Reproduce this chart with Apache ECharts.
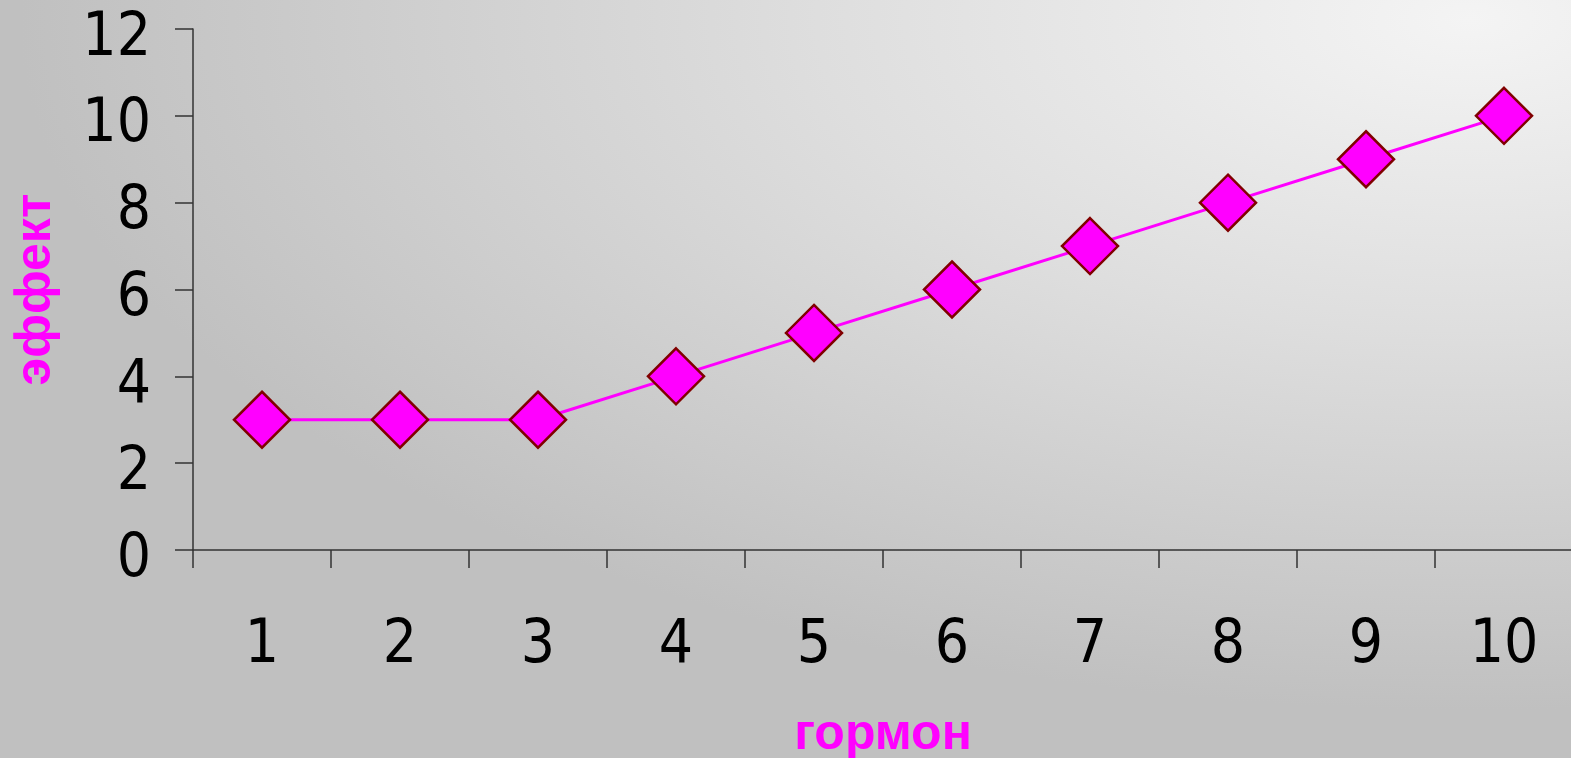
<!DOCTYPE html>
<html>
<head>
<meta charset="utf-8">
<title>гормон / эффект</title>
<script src="https://cdn.jsdelivr.net/npm/echarts@6/dist/echarts.min.js"></script>
<style>
  html, body { margin: 0; padding: 0; }
  body {
    width: 1571px; height: 758px; overflow: hidden;
    background: radial-gradient(ellipse 1450px 690px at 1470px 20px, #f4f4f4 0%, #dedede 45%, #c0c0c0 100%);
  }
  #chart { width: 1571px; height: 758px; }
</style>
</head>
<body>
<div id="chart"></div>
<script>
// Dose of hormone (x) against observed effect (y)
const categories = ['1', '2', '3', '4', '5', '6', '7', '8', '9', '10'];
const effectValues = [3, 3, 3, 4, 5, 6, 7, 8, 9, 10];
const xAxisTitle = 'гормон';
const yAxisTitle = 'эффект';

const chart = echarts.init(document.getElementById('chart'), null, { renderer: 'canvas' });

const axisLineStyle = { color: '#333333', width: 1.5 };
const tickLabelFont = { fontFamily: "'DejaVu Sans Condensed', 'DejaVu Sans'", fontSize: 60, color: '#000000' };
const titleFont = { fontFamily: 'Liberation Sans', fontWeight: 'bold', fontSize: 50, color: '#ff00ff' };

chart.setOption({
  backgroundColor: 'transparent',
  animation: false,
  grid: {
    left: 193, top: 29, right: -2, bottom: 208,
    outerBoundsMode: 'none'
  },
  xAxis: {
    type: 'category',
    data: categories,
    boundaryGap: true,
    name: xAxisTitle,
    nameLocation: 'middle',
    nameGap: 160,
    nameTextStyle: titleFont,
    axisLine: { show: true, lineStyle: axisLineStyle },
    axisTick: { show: true, length: 18, alignWithLabel: false, lineStyle: axisLineStyle },
    axisLabel: Object.assign({ margin: 66, interval: 0 }, tickLabelFont),
    splitLine: { show: false }
  },
  yAxis: {
    type: 'value',
    min: 0, max: 12, interval: 2,
    name: yAxisTitle,
    nameLocation: 'middle',
    nameGap: 132,
    nameRotate: 90,
    nameTextStyle: titleFont,
    axisLine: { show: true, lineStyle: axisLineStyle },
    axisTick: { show: true, length: 18, lineStyle: axisLineStyle },
    axisLabel: Object.assign({
      margin: 42,
      formatter: '{v|{value}}',
      rich: { v: Object.assign({ padding: [20, 0, 0, 0] }, tickLabelFont) }
    }, tickLabelFont),
    splitLine: { show: false }
  },
  series: [{
    type: 'line',
    data: effectValues,
    symbol: 'diamond',
    symbolSize: 56,
    lineStyle: { color: '#ff00ff', width: 3 },
    itemStyle: { color: '#ff00ff', borderColor: '#800000', borderWidth: 2.5 },
    emphasis: { disabled: true }
  }]
});
</script>
</body>
</html>
